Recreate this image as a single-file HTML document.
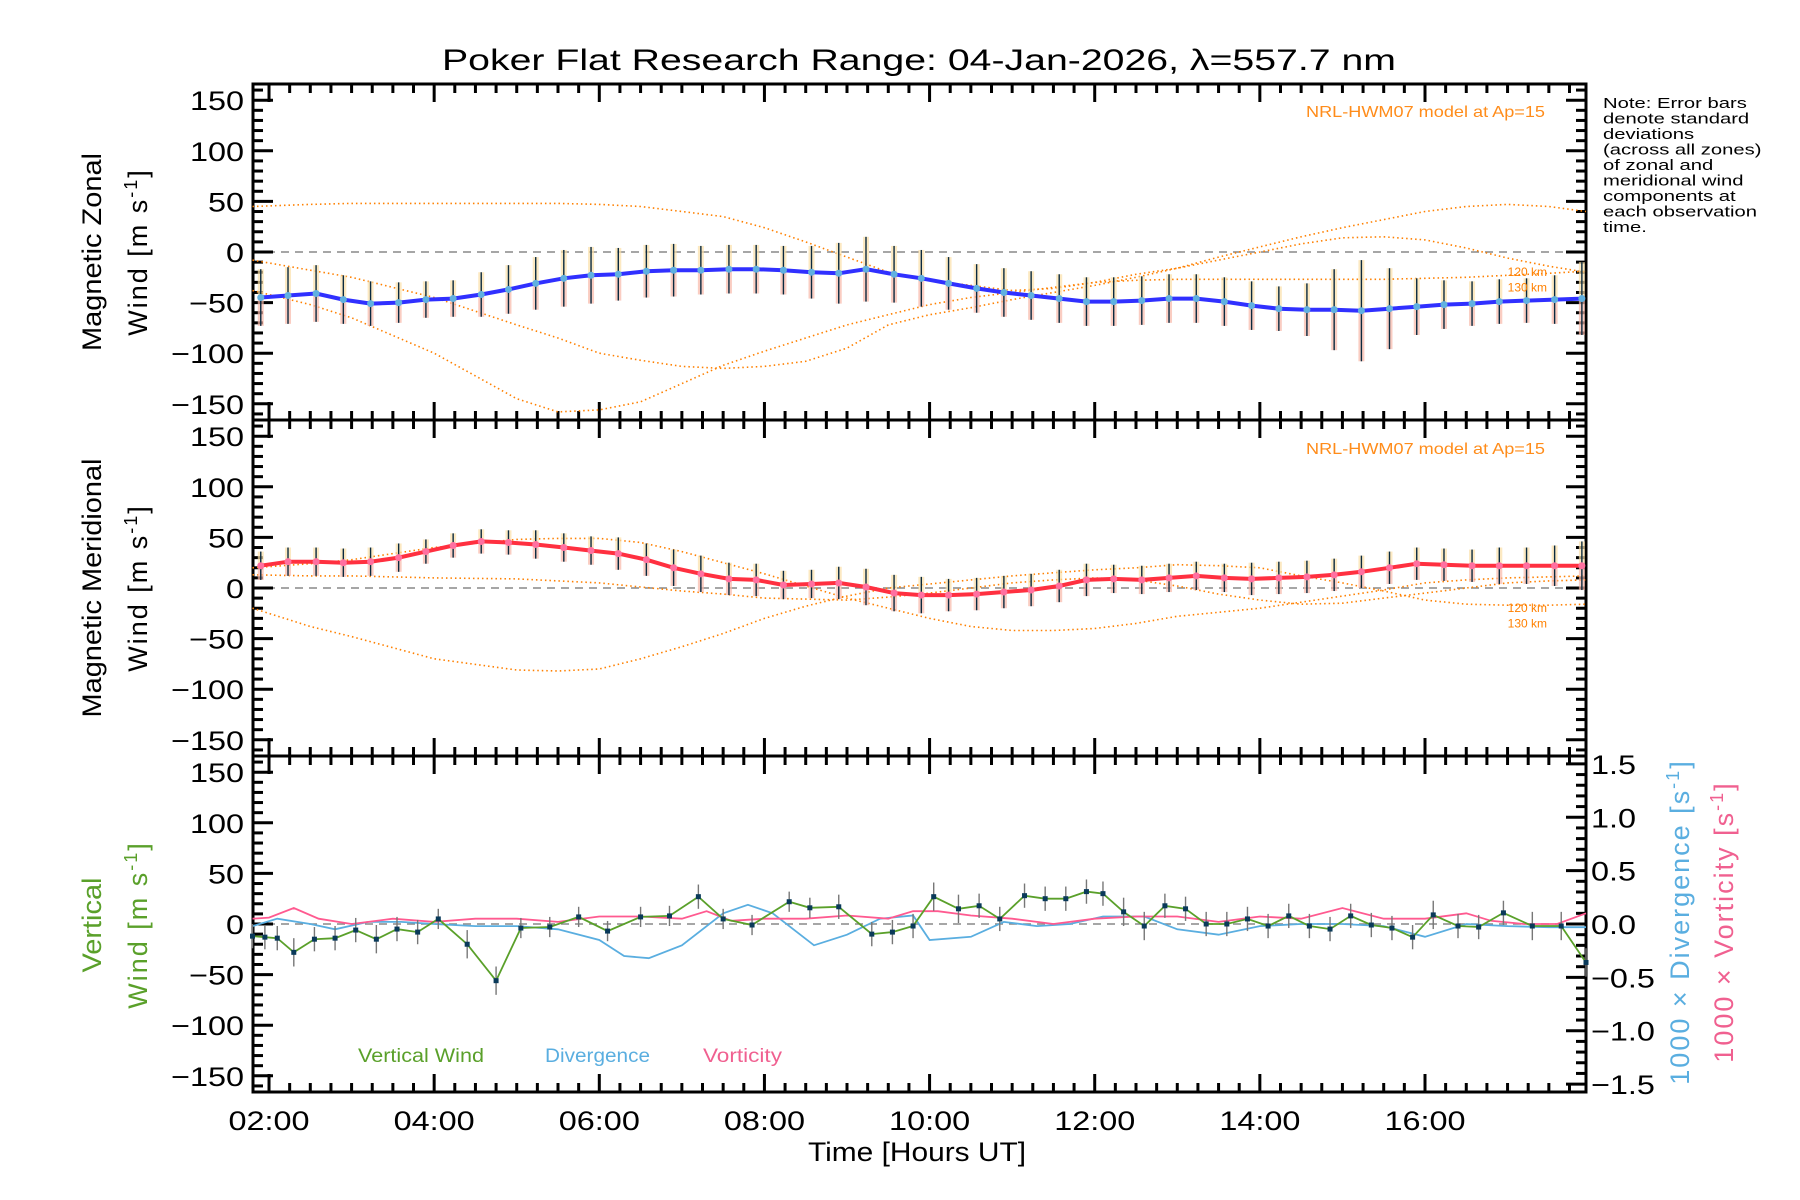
<!DOCTYPE html>
<html><head><meta charset="utf-8"><style>
html,body{margin:0;padding:0;background:#fff}
svg{display:block}
text{font-family:"Liberation Sans",sans-serif}
</style></head><body>
<svg id="chart" width="1800" height="1200" viewBox="0 0 1800 1200">
<text x="919" y="70" font-size="30" text-anchor="middle" textLength="954" lengthAdjust="spacingAndGlyphs">Poker Flat Research Range: 04-Jan-2026, λ=557.7 nm</text>
<g id="g1"></g>
<g id="g2"></g>
<g id="g3"></g>
<g font-size="15" transform="translate(1603,0) scale(1.35,1)">
<text x="0" y="108">Note: Error bars</text>
<text x="0" y="123.5">denote standard</text>
<text x="0" y="139">deviations</text>
<text x="0" y="154.5">(across all zones)</text>
<text x="0" y="170">of zonal and</text>
<text x="0" y="185.5">meridional wind</text>
<text x="0" y="201">components at</text>
<text x="0" y="216.5">each observation</text>
<text x="0" y="232">time.</text>
</g>
<text x="917" y="1161" font-size="27" text-anchor="middle" textLength="218" lengthAdjust="spacingAndGlyphs">Time [Hours UT]</text>
<g font-size="27">
<text transform="translate(101,252) rotate(-90)" text-anchor="middle" textLength="198" lengthAdjust="spacingAndGlyphs">Magnetic Zonal</text>
<text transform="translate(147,252) rotate(-90)" text-anchor="middle" letter-spacing="2">Wind [m s<tspan dy="-10" font-size="18">-1</tspan><tspan dy="10">]</tspan></text>
<text transform="translate(101,588) rotate(-90)" text-anchor="middle" textLength="259" lengthAdjust="spacingAndGlyphs">Magnetic Meridional</text>
<text transform="translate(147,588) rotate(-90)" text-anchor="middle" letter-spacing="2">Wind [m s<tspan dy="-10" font-size="18">-1</tspan><tspan dy="10">]</tspan></text>
<text transform="translate(101,925) rotate(-90)" text-anchor="middle" fill="#5aa02a" textLength="95" lengthAdjust="spacingAndGlyphs">Vertical</text>
<text transform="translate(147,925) rotate(-90)" text-anchor="middle" fill="#5aa02a" letter-spacing="2">Wind [m s<tspan dy="-10" font-size="18">-1</tspan><tspan dy="10">]</tspan></text>
<text transform="translate(1689,922) rotate(-90)" text-anchor="middle" fill="#5aaee0" letter-spacing="2">1000 × Divergence [s<tspan dy="-10" font-size="18">-1</tspan><tspan dy="10">]</tspan></text>
<text transform="translate(1733,922) rotate(-90)" text-anchor="middle" fill="#f06090" letter-spacing="2">1000 × Vorticity [s<tspan dy="-10" font-size="18">-1</tspan><tspan dy="10">]</tspan></text>
</g>
<g font-size="19">
<text x="358" y="1062" fill="#5aa02a" textLength="126" lengthAdjust="spacingAndGlyphs">Vertical Wind</text>
<text x="545" y="1062" fill="#5aaee0" textLength="105" lengthAdjust="spacingAndGlyphs">Divergence</text>
<text x="703" y="1062" fill="#f06090" textLength="79" lengthAdjust="spacingAndGlyphs">Vorticity</text>
</g>
</svg>
<script>
// ---- data ----
const obsTimes = [1.9,2.23,2.57,2.9,3.23,3.57,3.9,4.23,4.57,4.9,5.23,5.57,5.9,6.23,6.57,6.9,7.23,7.57,7.9,8.23,8.57,8.9,9.23,9.57,9.9,10.23,10.57,10.9,11.23,11.57,11.9,12.23,12.57,12.9,13.23,13.57,13.9,14.23,14.57,14.9,15.23,15.57,15.9,16.23,16.57,16.9,17.23,17.57,17.9];
const zonal = [-45,-43,-41,-47,-51,-50,-47,-46,-42,-37,-31,-26,-23,-22,-19,-18,-18,-17,-17,-18,-20,-21,-17,-22,-26,-31,-36,-40,-43,-46,-49,-49,-48,-46,-46,-49,-53,-56,-57,-57,-58,-56,-54,-52,-51,-49,-48,-47,-46];
const zonalErr = [28,28,28,24,22,20,18,18,22,24,26,28,28,26,26,26,24,24,24,24,26,30,32,28,28,26,24,24,24,24,24,24,24,24,24,24,24,22,26,40,50,40,28,24,22,22,22,24,36];
const merid = [22,26,26,25,26,30,36,42,46,45,43,40,37,34,28,20,14,9,8,3,4,5,1,-5,-7,-7,-6,-4,-2,2,8,9,8,10,12,10,9,10,11,13,16,20,24,23,22,22,22,22,22];
const meridErr = [14,14,14,14,14,14,12,12,12,12,14,14,14,16,16,18,18,16,16,14,14,16,18,18,18,16,16,16,16,16,16,14,14,14,14,14,16,16,16,16,16,16,16,16,16,18,18,20,24];
const vertTimes = [1.8,1.95,2.1,2.3,2.55,2.8,3.05,3.3,3.55,3.8,4.05,4.4,4.75,5.05,5.4,5.75,6.1,6.5,6.85,7.2,7.5,7.85,8.3,8.55,8.9,9.3,9.55,9.8,10.05,10.35,10.6,10.85,11.15,11.4,11.65,11.9,12.1,12.35,12.6,12.85,13.1,13.35,13.6,13.85,14.1,14.35,14.6,14.85,15.1,15.35,15.6,15.85,16.1,16.4,16.65,16.95,17.3,17.65,17.95];
const vertWind = [-12,-13,-14,-28,-15,-14,-6,-15,-5,-8,5,-20,-56,-4,-3,7,-7,7,8,27,5,-1,22,16,17,-10,-8,-2,27,15,18,5,28,25,25,32,30,12,-2,18,15,0,0,5,-2,8,-2,-5,8,-1,-4,-13,9,-2,-3,11,-2,-2,-38];
const vertErr = [12,12,12,14,12,12,12,14,12,12,10,14,14,10,10,10,10,10,10,12,10,10,10,10,12,12,12,12,14,14,12,12,12,12,12,12,12,14,14,12,12,12,12,12,12,12,12,12,12,12,12,12,14,12,12,12,14,14,14];
const divTimes = [1.8,2.1,2.5,2.8,3.2,3.6,4.0,4.5,5.0,5.5,6.0,6.3,6.6,7.0,7.5,7.8,8.1,8.6,9.0,9.4,9.8,10.0,10.5,10.9,11.3,11.7,12.1,12.6,13.0,13.5,14.0,14.5,15.0,15.5,16.0,16.5,17.0,17.5,17.95];
const divergence = [-0.02,0.05,0.0,-0.05,0.02,0.02,0.0,-0.02,-0.02,-0.05,-0.15,-0.3,-0.32,-0.2,0.1,0.18,0.1,-0.2,-0.1,0.05,0.08,-0.15,-0.12,0.02,-0.02,0.0,0.07,0.07,-0.05,-0.1,-0.02,0.0,0.0,-0.02,-0.12,0.0,-0.02,-0.03,-0.03];
const vortTimes = [1.8,2.0,2.3,2.6,3.0,3.5,4.0,4.5,5.0,5.5,6.0,6.5,7.0,7.3,7.6,8.0,8.5,9.0,9.5,9.8,10.1,10.5,11.0,11.5,12.0,12.5,13.0,13.5,14.0,14.5,15.0,15.5,16.0,16.5,16.8,17.2,17.6,17.95];
const vorticity = [0.05,0.06,0.15,0.05,0.0,0.05,0.02,0.05,0.05,0.02,0.07,0.07,0.05,0.12,0.03,0.05,0.05,0.08,0.05,0.12,0.12,0.08,0.05,0.0,0.05,0.07,0.07,0.02,0.07,0.05,0.15,0.05,0.05,0.1,0.03,0.0,0.0,0.1];
const modelHours1 = [1.8,2.5,3,4,5,5.5,6,6.5,7,7.5,8,8.5,9,9.5,10,10.5,11,11.5,12,12.5,13,13.5,14,14.5,15,15.5,16,16.5,17,17.5,17.95];
const zModelA = [45,47,48,48,48,48,47,45,40,35,24,10,-5,-20,-28,-33,-38,-36,-30,-28,-27,-27,-27,-27,-27,-27,-26,-25,-23,-21,-19];
const zModelB = [-8,-18,-25,-45,-72,-85,-100,-107,-113,-115,-113,-108,-95,-72,-62,-55,-47,-40,-33,-25,-16,-5,5,15,24,32,40,45,47,45,40];
const zModelC = [-38,-52,-65,-100,-145,-158,-156,-148,-130,-112,-98,-85,-72,-62,-52,-45,-40,-35,-30,-22,-16,-8,0,8,14,15,12,4,-6,-14,-20];
const mModelA = [-20,-38,-48,-70,-81,-82,-80,-70,-58,-45,-30,-18,-8,0,4,8,12,15,18,20,23,22,20,12,5,-3,-12,-16,-17,-17,-16];
const mModelB = [20,24,28,40,48,49,49,45,36,25,14,2,-10,-20,-30,-38,-42,-42,-40,-35,-28,-24,-20,-14,-8,-2,5,8,10,11,12];
const mModelC = [13,12,12,10,9,7,5,1,-3,-6,-10,-11,-12,-9,-5,0,5,8,10,8,2,-6,-12,-16,-15,-10,-5,0,5,7,8];
const xTickLabels = ["02:00","04:00","06:00","08:00","10:00","12:00","14:00","16:00"];
const yTickLabels = ["−150","−100","−50","0","50","100","150"];
const rightTickLabels = ["−1.5","−1.0","−0.5","0.0","0.5","1.0","1.5"];

// ---- axes ----
const L=253,R=1586,H0=1.806,H1=17.95;
const panels=[{top:84,bot:420},{top:420,bot:756},{top:756,bot:1092}];
const YMAX=166, RMAX=1.574;
const NS='http://www.w3.org/2000/svg';
function xs(h){return L+(h-H0)/(H1-H0)*(R-L);}
function ysF(p){return v=>(p.top+p.bot)/2 - v/YMAX*(p.bot-p.top)/2;}
function yrF(p){return v=>(p.top+p.bot)/2 - v/RMAX*(p.bot-p.top)/2;}
function mk(parent,tag,attrs){const e=document.createElementNS(NS,tag);for(const k in attrs)e.setAttribute(k,attrs[k]);parent.appendChild(e);return e;}
function poly(g,xsArr,vals,yf,attrs){let d='';for(let i=0;i<vals.length;i++){d+=(i?'L':'M')+xs(xsArr[i]).toFixed(1)+','+yf(vals[i]).toFixed(1);}return mk(g,'path',Object.assign({d:d,fill:'none'},attrs));}
function label(g,x,y,s,anchor){const t=mk(g,'text',{transform:'translate('+x+','+y+') scale(1.2,1)','font-size':27,'text-anchor':anchor});t.textContent=s;return t;}

function axes(g,p,idx){
  const ys=ysF(p);
  const ax=mk(g,'g',{});
  
  
  mk(ax,'rect',{x:L,y:p.top,width:R-L,height:p.bot-p.top,fill:'none',stroke:'#000','stroke-width':3});
  const z=mk(ax,'line',{x1:L,x2:R,y1:ys(0),y2:ys(0),stroke:'#888','stroke-width':1.5,'stroke-dasharray':'8,6'});
  
  
  for(let v=-160;v<=160;v+=10){
    const major=v%50===0, len=major?20:10, y=ys(v);
    mk(ax,'line',{x1:L,x2:L+len,y1:y,y2:y,stroke:'#000','stroke-width':3});
    if(idx<2) mk(ax,'line',{x1:R,x2:R-len,y1:y,y2:y,stroke:'#000','stroke-width':3});
  }
  yTickLabels.forEach((s,i)=>{const v=-150+i*50;const t=label(ax,244,ys(v)+10,s,'end');
    
    });
  for(let q=Math.ceil(H0*4);q<=H1*4;q++){
    const h=q/4, major=(q%8===0), len=major?18:9, x=xs(h);
    mk(ax,'line',{x1:x,x2:x,y1:p.bot,y2:p.bot-len,stroke:'#000','stroke-width':3});
    mk(ax,'line',{x1:x,x2:x,y1:p.top,y2:p.top+len,stroke:'#000','stroke-width':3});
  }
  return ys;
}
function orangeModels(g,ys,arrs){
  arrs.forEach((a,i)=>{const c=poly(g,modelHours1,a,ys,{stroke:'#ff8000','stroke-width':1.6,'stroke-dasharray':'1.5,3'});
    
    });
}
function windPanel(g,p,idx,vals,errs,lineCol,ptCol,models,labelY){
  const ys=axes(g,p,idx);
  orangeModels(g,ys,models);
  for(let i=0;i<obsTimes.length;i++){
    const x=xs(obsTimes[i]),y=ys(vals[i]),e=errs[i];
    const hi=mk(g,'rect',{x:x-3,y:ys(vals[i]+e),width:6,height:ys(vals[i])-ys(vals[i]+e),fill:'#fbe0a8',opacity:0.7});
    
    
    const lo=mk(g,'rect',{x:x-3,y:y,width:6,height:ys(vals[i]-e)-y,fill:'#f8b8a8',opacity:0.7});
    
    
    const b=mk(g,'line',{x1:x,x2:x,y1:ys(vals[i]+e),y2:ys(vals[i]-e),stroke:'#0a2a40','stroke-width':1.4});
    
    
  }
  const ln=poly(g,obsTimes,vals,ys,{stroke:lineCol,'stroke-width':4});
  
  
  for(let i=0;i<obsTimes.length;i++){
    const c=mk(g,'circle',{cx:xs(obsTimes[i]),cy:ys(vals[i]),r:3.5,fill:ptCol});
    
    
  }
  const t=mk(g,'text',{x:1545,y:labelY,'font-size':16,'text-anchor':'end',fill:'#ff8c1a',textLength:239,lengthAdjust:'spacingAndGlyphs'});t.textContent='NRL-HWM07 model at Ap=15';
  
  
  const k1=mk(g,'text',{x:1547,y:ys(-20)+4,'font-size':12,'text-anchor':'end',fill:'#ff8000'});k1.textContent='120 km';
  
  
  const k2=mk(g,'text',{x:1547,y:ys(-35)+4,'font-size':12,'text-anchor':'end',fill:'#ff8000'});k2.textContent='130 km';
  
  
}
windPanel(document.getElementById('g1'),panels[0],0,zonal,zonalErr,'#3030ff','#60b0e0',[zModelA,zModelB,zModelC],117);
windPanel(document.getElementById('g2'),panels[1],1,merid,meridErr,'#ff3040','#ff70a0',[mModelA,mModelB,mModelC],454);
{
  const g=document.getElementById('g3'),p=panels[2];
  const ys=axes(g,p,2), yr=yrF(p);
  for(let v=-15;v<=15;v++){
    const major=v%5===0,len=major?20:10,y=yr(v/10);
    mk(g,'line',{x1:R,x2:R-len,y1:y,y2:y,stroke:'#000','stroke-width':3});
  }
  rightTickLabels.forEach((s,i)=>{const v=-1.5+i*0.5;const t=label(g,1591,yr(v)+10,s,'start');
    
    });
  const dv=poly(g,divTimes,divergence,yr,{stroke:'#5aaee0','stroke-width':1.8});
  
  
  const vo=poly(g,vortTimes,vorticity,yr,{stroke:'#ff5a90','stroke-width':1.8});
  
  
  for(let i=0;i<vertTimes.length;i++){
    const x=xs(vertTimes[i]);
    const b=mk(g,'line',{x1:x,x2:x,y1:ys(vertWind[i]+vertErr[i]),y2:ys(vertWind[i]-vertErr[i]),stroke:'#777','stroke-width':1.4});
    
    
  }
  const vw=poly(g,vertTimes,vertWind,ys,{stroke:'#5aa02a','stroke-width':1.8});
  
  
  for(let i=0;i<vertTimes.length;i++){
    const r=mk(g,'rect',{x:xs(vertTimes[i])-2.5,y:ys(vertWind[i])-2.5,width:5,height:5,fill:'#0a3a5a'});
    
    
  }
  xTickLabels.forEach((s,i)=>{const t=label(g,xs(2+2*i),1130,s,'middle');
    
    });
}
</script>
</body></html>
